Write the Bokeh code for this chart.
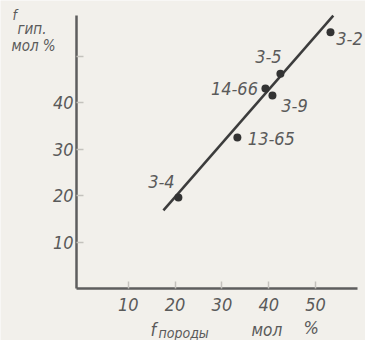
from bokeh.plotting import figure
from bokeh.models import Range1d, FixedTicker, Label, ColumnDataSource, LinearAxis
from bokeh.embed import file_html
from bokeh.resources import INLINE

# data
samples = ["3-4", "13-65", "14-66", "3-9", "3-5", "3-2"]
f_rock = [20.7, 33.3, 39.3, 40.8, 42.5, 53.2]
f_gyp = [19.6, 32.5, 43.0, 41.5, 46.2, 55.1]
line_x = [17.5, 53.8]
line_y = [16.8, 58.7]
x_ticks = [10, 20, 30, 40, 50]
y_ticks = [10, 20, 30, 40, 50]

# label placement (screen px, relative to point)
lab_dx = [-17, 34, -31, 22, -12, 19]
lab_dy = [-16, 1, 0, 10, -17, 6]

BG = "#f2f0eb"
TXT = "#5a5a5a"
FONT = "DejaVu Sans Condensed"
W, H = 365, 340

p = figure(width=W, height=H, output_backend="svg", toolbar_location=None,
           x_range=Range1d(-17.31, 60.68), y_range=Range1d(-11.18, 61.94),
           x_axis_location=None, y_axis_location=None,
           min_border=0)
p.background_fill_color = BG
p.border_fill_color = BG
p.outline_line_color = None
p.grid.visible = False

xax = LinearAxis(fixed_location=0, bounds=(-1.07, 59.0))
yax = LinearAxis(fixed_location=-1.07, bounds=(0, 58.7))
for ax in (xax, yax):
    ax.axis_line_color = "#5e5e5e"
    ax.axis_line_width = 2.5
    ax.major_tick_out = 0
    ax.major_tick_in = 7
    ax.major_tick_line_color = "#c4c2bd"
    ax.major_tick_line_width = 1.5
    ax.minor_tick_line_color = None
    ax.major_label_text_font = FONT
    ax.major_label_text_font_style = "italic"
    ax.major_label_text_font_size = "18px"
    ax.major_label_text_color = TXT
xax.ticker = FixedTicker(ticks=x_ticks)
yax.ticker = FixedTicker(ticks=y_ticks)
yax.major_label_overrides = {50: ""}
xax.major_label_standoff = 9
yax.major_label_standoff = 3
p.add_layout(xax, "below")
p.add_layout(yax, "left")

p.line(line_x, line_y, line_color="#3c3c3c", line_width=2.5)
src = ColumnDataSource(dict(x=f_rock, y=f_gyp, t=samples, dx=lab_dx, dy=lab_dy))
p.scatter("x", "y", source=src, size=8, fill_color="#333333", line_color=None)
p.text("x", "y", text="t", source=src, x_offset="dx", y_offset="dy",
       text_align="center", text_baseline="middle", text_font_size="18px",
       text_font_style="italic", text_color=TXT, text_font={"value": FONT})

def lab(txt, px, py, size):
    p.add_layout(Label(x=px, y=H - py, x_units="screen", y_units="screen",
                       text=txt, text_font=FONT, text_font_style="italic",
                       text_font_size=size, text_color=TXT,
                       text_align="left", text_baseline="middle"))

lab("f", 12, 14, "14px")
lab("гип.", 17, 28, "15px")
lab("мол %", 11, 45, "15px")
lab("f", 150, 329, "18px")
lab("породы", 158, 332, "14px")
lab("мол", 251, 329, "17px")
lab("%", 303, 327, "18px")

open("out.html", "w").write(file_html(p, INLINE))
